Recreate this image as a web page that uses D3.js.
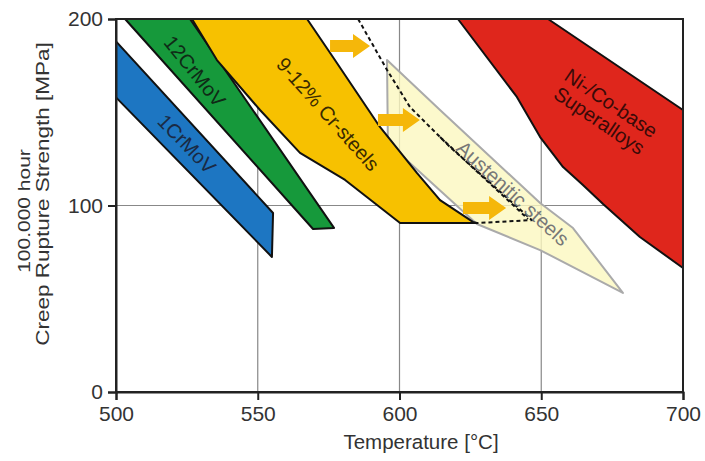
<!DOCTYPE html>
<html>
<head>
<meta charset="utf-8">
<script src="https://cdn.jsdelivr.net/npm/d3@7"></script>
<style>
  body { margin: 0; background: #fff; }
  text { font-family: "Liberation Sans", Arial, sans-serif; }
</style>
</head>
<body>
<svg id="chart"></svg>
<script>
// temperature [°C] / strength [MPa] outlines
const xTicks = [500, 550, 600, 650, 700];
const yTicks = [0, 100, 200];

const cr1MoV = [[500, 188], [555.4, 96], [555, 72.4], [500, 158]];
const cr12MoV = [[503.2, 200], [526.1, 200], [576.9, 88], [569.5, 87.4]];
const cr912 = [[526.8, 200], [567.4, 200], [576.5, 179.6], [593.1, 142.1], [606.2, 117.4],
               [614.3, 102.9], [625.9, 91.2], [627.3, 90.6], [600.2, 90.6], [580.8, 113.7],
               [564.9, 128.2], [550.8, 151.2], [535.6, 178]];
const austenitic = [[595.6, 178], [614.3, 151.2], [649.6, 101.3], [661.2, 87.9], [678.8, 53.1],
                    [649.6, 76.1], [627.3, 90.1], [595.9, 133.5]];
const superalloys = [[620.6, 200], [652.4, 200], [700, 151.2], [700, 66.5], [684.8, 83.1],
                     [671.8, 100.8], [664.7, 111], [657.7, 120.6], [649.6, 136.7], [641.4, 158.2]];
const dashedLimit = [[585.4, 200], [595.6, 172.7], [603.7, 152.8], [617.8, 131.4], [646.7, 92.2], [627.3, 90.6]];
const dashedLimit2 = [[614.3, 136.7], [645.3, 92.8]];
// arrows: [from T, to T, at strength]
const arrows = [[575.5, 589.6, 185.5], [592.4, 607.2, 145.8], [622.4, 637.6, 98.7]];

const width = 705, height = 461;
const margin = {top: 19, right: 22, bottom: 69, left: 116};
const innerW = width - margin.left - margin.right;
const innerH = height - margin.top - margin.bottom;

const svg = d3.select('#chart').attr('width', width).attr('height', height);
const g = svg.append('g').attr('transform', `translate(${margin.left},${margin.top})`);

const x = d3.scaleLinear().domain([500, 700]).range([0, innerW]);
const y = d3.scaleLinear().domain([0, 200]).range([innerH, 0]);

// grid
g.append('g').selectAll('line').data(xTicks.slice(1, -1)).join('line')
  .attr('x1', d => x(d)).attr('x2', d => x(d)).attr('y1', 0).attr('y2', innerH)
  .attr('stroke', '#888').attr('stroke-width', 1.2);
g.append('g').selectAll('line').data([100]).join('line')
  .attr('x1', 0).attr('x2', innerW).attr('y1', d => y(d)).attr('y2', d => y(d))
  .attr('stroke', '#888').attr('stroke-width', 1.2);

const area = d3.line().x(d => x(d[0])).y(d => y(d[1])).curve(d3.curveLinearClosed);
const open = d3.line().x(d => x(d[0])).y(d => y(d[1]));

g.append('path').attr('d', area(austenitic))
  .attr('fill', '#fbf7bf').attr('fill-opacity', 0.8)
  .attr('stroke', '#aaa').attr('stroke-width', 2).attr('stroke-linejoin', 'round');

const solid = [
  [cr1MoV, '#1d76c2'], [cr12MoV, '#16993b'], [cr912, '#f7c100'], [superalloys, '#df261c']
];
solid.forEach(([pts, col]) => {
  g.append('path').attr('d', area(pts))
    .attr('fill', col).attr('stroke', '#111').attr('stroke-width', 2)
    .attr('stroke-linejoin', 'round');
});

[dashedLimit, dashedLimit2].forEach(pts => {
  g.append('path').attr('d', open(pts)).attr('fill', 'none')
    .attr('stroke', '#111').attr('stroke-width', 2).attr('stroke-dasharray', '4,3');
});

// arrows
arrows.forEach(([t0, t1, s]) => {
  const x0 = x(t0), x1 = x(t1), yc = y(s);
  const hl = 17, sh = 6, hh = 12;
  g.append('path')
    .attr('d', `M${x0},${yc - sh}L${x1 - hl},${yc - sh}L${x1 - hl},${yc - hh}L${x1},${yc}` +
               `L${x1 - hl},${yc + hh}L${x1 - hl},${yc + sh}L${x0},${yc + sh}Z`)
    .attr('fill', '#f5b70a');
});

// region labels
const labels = [
  {t: '1CrMoV', at: [525, 133], a: 46, c: '#1a2a44'},
  {t: '12CrMoV', at: [527.8, 172], a: 51, c: '#0f2a16'},
  {t: '9-12% Cr-steels', at: [574.8, 149], a: 48.5, c: '#3a2a00'},
  {t: 'Austenitic steels', at: [640, 106.5], a: 42.5, c: '#777'}
];
labels.forEach(l => {
  g.append('text').attr('transform', `translate(${x(l.at[0])},${y(l.at[1])}) rotate(${l.a})`)
    .attr('text-anchor', 'middle').attr('dy', '0.35em')
    .attr('font-size', 20).attr('fill', l.c).text(l.t);
});
const sup = g.append('text')
  .attr('transform', `translate(${x(672.5)},${y(150)}) rotate(34)`)
  .attr('text-anchor', 'middle').attr('font-size', 20).attr('fill', '#3a0a08');
sup.append('tspan').attr('x', 0).attr('dy', '-0.2em').text('Ni-/Co-base');
sup.append('tspan').attr('x', 0).attr('dy', '1.05em').text('Superalloys');

// frame + axes
g.append('rect').attr('width', innerW).attr('height', innerH)
  .attr('fill', 'none').attr('stroke', '#222').attr('stroke-width', 2);

const xAxis = g.append('g').attr('transform', `translate(0,${innerH})`)
  .call(d3.axisBottom(x).tickValues(xTicks).tickSize(8).tickPadding(6));
const yAxis = g.append('g')
  .call(d3.axisLeft(y).tickValues(yTicks).tickSize(8).tickPadding(5));
[xAxis, yAxis].forEach(ax => {
  ax.select('.domain').attr('stroke', '#222').attr('stroke-width', 2);
  ax.selectAll('.tick line').attr('stroke', '#222').attr('stroke-width', 2);
  ax.selectAll('.tick text').attr('font-size', 21).attr('fill', '#333')
    .attr('font-family', '"Liberation Sans", Arial, sans-serif');
});

svg.append('text').attr('x', 421).attr('y', 449)
  .attr('text-anchor', 'middle').attr('font-size', 20.5).attr('fill', '#333')
  .text('Temperature [°C]');

// y title glyphs are narrow in the source, so squash them a bit across the line
svg.append('text').attr('transform', `translate(30,211) rotate(-90) scale(1,0.8)`)
  .attr('text-anchor', 'middle').attr('font-size', 21).attr('fill', '#333')
  .text('100.000 hour');
svg.append('text').attr('transform', `translate(48.5,194) rotate(-90) scale(1,0.8)`)
  .attr('text-anchor', 'middle').attr('font-size', 22.5).attr('fill', '#333')
  .text('Creep Rupture Strength [MPa]');
</script>
</body>
</html>
